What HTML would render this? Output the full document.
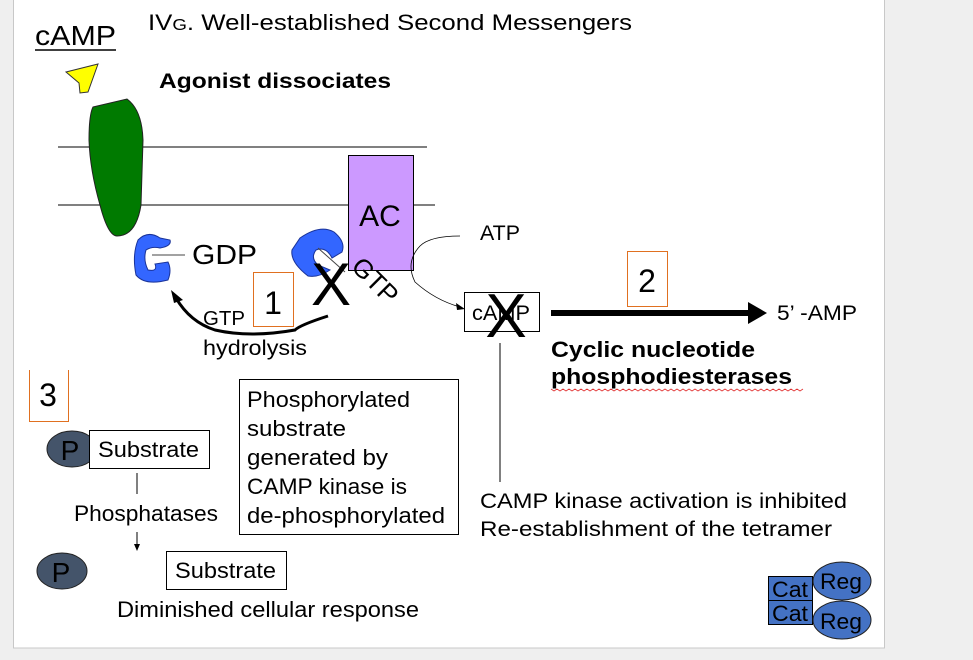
<!DOCTYPE html>
<html><head><meta charset="utf-8"><style>
html,body{margin:0;padding:0;background:#efefef;width:973px;height:660px;overflow:hidden}
svg{display:block}
text{font-family:"Liberation Sans","DejaVu Sans",sans-serif;fill:#000}
</style></head><body>
<svg width="973" height="660" viewBox="0 0 973 660" xmlns="http://www.w3.org/2000/svg">
<rect x="13.5" y="-1" width="871" height="649" fill="#fff" stroke="#c8c8c8"/>
<text x="35" y="45" font-size="28" textLength="81" lengthAdjust="spacingAndGlyphs">cAMP</text>
<line x1="35" y1="50" x2="116" y2="50" stroke="#000" stroke-width="1.5"/>
<text x="148" y="30" font-size="22" textLength="484" lengthAdjust="spacingAndGlyphs">IV<tspan font-size="16">G</tspan>.   Well-established Second Messengers</text>
<polygon points="66,72 98,64 88,92 80,93 79,83" fill="#ffff00" stroke="#333" stroke-width="1"/>
<text x="159" y="88" font-size="21" font-weight="bold" textLength="232" lengthAdjust="spacingAndGlyphs">Agonist dissociates</text>
<line x1="58" y1="147" x2="427" y2="147" stroke="#000"/>
<line x1="58" y1="205" x2="435" y2="205" stroke="#000"/>
<path d="M93,107 L127,99 Q142,110 143,140 L141,205 Q136,236 117,236 Q108,236 100,205 Q90,170 89,140 Q89,115 93,107 Z" fill="#007a00" stroke="#222"/>
<rect x="348.5" y="155.5" width="65" height="115" fill="#cc99ff" stroke="#000"/>
<text x="380" y="226" font-size="30" text-anchor="middle">AC</text>
<path d="M160,238 Q148,230 138,240 Q132,255 136,275 Q145,286 168,280 Q172,270 168,262 L155,264 Q158,272 148,270 Q143,260 146,250 Q152,246 160,248 Q172,246 170,240 Z" fill="#3366ff" stroke="#1a3399"/>
<line x1="152" y1="255" x2="185" y2="255" stroke="#444"/>
<text x="192" y="264" font-size="28" textLength="65" lengthAdjust="spacingAndGlyphs">GDP</text>
<path d="M300,238 Q320,224 334,232 Q346,242 342,252 L332,258 Q326,246 316,250 Q310,258 318,265 L330,270 Q318,278 308,276 Q290,262 292,250 Z" fill="#3366ff" stroke="#1a3399"/>
<line x1="318" y1="248" x2="345" y2="272" stroke="#444"/>
<rect x="253.5" y="272.5" width="40" height="54" fill="#fff" stroke="#e07020"/>
<text x="273" y="314" font-size="32" text-anchor="middle">1</text>
<text x="331" y="305" font-size="60" text-anchor="middle">X</text>
<text x="350" y="268" font-size="26" transform="rotate(45 350 268)">GTP</text>
<path d="M328,316 Q300,325 295,330 Q250,338 215,330 Q190,322 176,298" fill="none" stroke="#000" stroke-width="3"/>
<polygon points="171,290 183,300 174,303" fill="#000"/>
<text x="203" y="325" font-size="20" textLength="42" lengthAdjust="spacingAndGlyphs">GTP</text>
<text x="203" y="355" font-size="21" textLength="104" lengthAdjust="spacingAndGlyphs">hydrolysis</text>
<text x="480" y="240" font-size="21" textLength="40" lengthAdjust="spacingAndGlyphs">ATP</text>
<path d="M460,236 Q430,236 420,246 Q405,262 415,282 Q435,300 460,307" fill="none" stroke="#000" stroke-width="0.8"/>
<polygon points="465,309 456,303 457,310" fill="#000"/>
<rect x="464.5" y="292.5" width="75" height="39" fill="#fff" stroke="#000"/>
<text x="472" y="320" font-size="21" textLength="58" lengthAdjust="spacingAndGlyphs">cAMP</text>
<text x="506" y="337" font-size="62" text-anchor="middle">X</text>
<line x1="551" y1="313" x2="750" y2="313" stroke="#000" stroke-width="6"/>
<polygon points="767,313 748,302 748,324" fill="#000"/>
<rect x="627.5" y="251.5" width="40" height="55" fill="#fff" stroke="#e07020"/>
<text x="647" y="292" font-size="32" text-anchor="middle">2</text>
<text x="777" y="320" font-size="21" textLength="80" lengthAdjust="spacingAndGlyphs">5’ -AMP</text>
<text x="551" y="357" font-size="22" font-weight="bold" textLength="204" lengthAdjust="spacingAndGlyphs">Cyclic nucleotide</text>
<text x="551" y="384" font-size="22" font-weight="bold" textLength="241" lengthAdjust="spacingAndGlyphs">phosphodiesterases</text>
<path d="M551,389 l3,2 l3,-2 l3,2 l3,-2 l3,2 l3,-2 l3,2 l3,-2 l3,2 l3,-2 l3,2 l3,-2 l3,2 l3,-2 l3,2 l3,-2 l3,2 l3,-2 l3,2 l3,-2 l3,2 l3,-2 l3,2 l3,-2 l3,2 l3,-2 l3,2 l3,-2 l3,2 l3,-2 l3,2 l3,-2 l3,2 l3,-2 l3,2 l3,-2 l3,2 l3,-2 l3,2 l3,-2 l3,2 l3,-2 l3,2 l3,-2 l3,2 l3,-2 l3,2 l3,-2 l3,2 l3,-2 l3,2 l3,-2 l3,2 l3,-2 l3,2 l3,-2 l3,2 l3,-2 l3,2 l3,-2 l3,2 l3,-2 l3,2 l3,-2 l3,2 l3,-2 l3,2 l3,-2 l3,2 l3,-2 l3,2 l3,-2 l3,2 l3,-2 l3,2 l3,-2 l3,2 l3,-2 l3,2 l3,-2 l3,2 l3,-2 l3,2 l3,-2" fill="none" stroke="#e03030" stroke-width="0.8"/>
<line x1="500" y1="343" x2="500" y2="482" stroke="#000"/>
<text x="480" y="508" font-size="21" textLength="367" lengthAdjust="spacingAndGlyphs">CAMP kinase activation is inhibited</text>
<text x="480" y="536" font-size="21" textLength="352" lengthAdjust="spacingAndGlyphs">Re-establishment of the tetramer</text>
<path d="M29.5,370 V421.5 H68.5 V370" fill="none" stroke="#e07020"/>
<text x="48" y="406" font-size="32" text-anchor="middle">3</text>
<ellipse cx="72" cy="449" rx="25" ry="18" fill="#44546a" stroke="#222"/>
<text x="70" y="460" font-size="28" text-anchor="middle">P</text>
<rect x="89.5" y="430.5" width="120" height="38" fill="#fff" stroke="#000"/>
<text x="98" y="457" font-size="22" textLength="101" lengthAdjust="spacingAndGlyphs">Substrate</text>
<line x1="137" y1="473" x2="137" y2="494" stroke="#000"/>
<text x="74" y="521" font-size="22" textLength="144" lengthAdjust="spacingAndGlyphs">Phosphatases</text>
<line x1="137" y1="532" x2="137" y2="545" stroke="#000"/>
<polygon points="134,544 140,544 137,551" fill="#000"/>
<ellipse cx="62" cy="571" rx="25" ry="18" fill="#44546a" stroke="#222"/>
<text x="61" y="582" font-size="28" text-anchor="middle">P</text>
<rect x="166.5" y="551.5" width="120" height="38" fill="#fff" stroke="#000"/>
<text x="175" y="578" font-size="22" textLength="101" lengthAdjust="spacingAndGlyphs">Substrate</text>
<text x="117" y="617" font-size="22" textLength="302" lengthAdjust="spacingAndGlyphs">Diminished cellular response</text>
<rect x="239.5" y="379.5" width="219" height="155" fill="#fff" stroke="#000"/>
<g font-size="22">
<text x="247" y="407" textLength="163" lengthAdjust="spacingAndGlyphs">Phosphorylated</text>
<text x="247" y="436" textLength="99" lengthAdjust="spacingAndGlyphs">substrate</text>
<text x="247" y="465" textLength="141" lengthAdjust="spacingAndGlyphs">generated by</text>
<text x="247" y="494" textLength="160" lengthAdjust="spacingAndGlyphs">CAMP kinase is</text>
<text x="247" y="523" textLength="198" lengthAdjust="spacingAndGlyphs">de-phosphorylated</text>
</g>
<rect x="768.5" y="576.5" width="44" height="24" fill="#4472c4" stroke="#000"/>
<rect x="768.5" y="600.5" width="44" height="24" fill="#4472c4" stroke="#000"/>
<text x="772" y="597" font-size="22" textLength="36" lengthAdjust="spacingAndGlyphs">Cat</text>
<text x="772" y="621" font-size="22" textLength="36" lengthAdjust="spacingAndGlyphs">Cat</text>
<ellipse cx="842" cy="581" rx="29" ry="19" fill="#4472c4" stroke="#222"/>
<ellipse cx="842" cy="620" rx="29" ry="19" fill="#4472c4" stroke="#222"/>
<text x="820" y="589" font-size="22" textLength="42" lengthAdjust="spacingAndGlyphs">Reg</text>
<text x="820" y="629" font-size="22" textLength="42" lengthAdjust="spacingAndGlyphs">Reg</text>
</svg>
</body></html>
